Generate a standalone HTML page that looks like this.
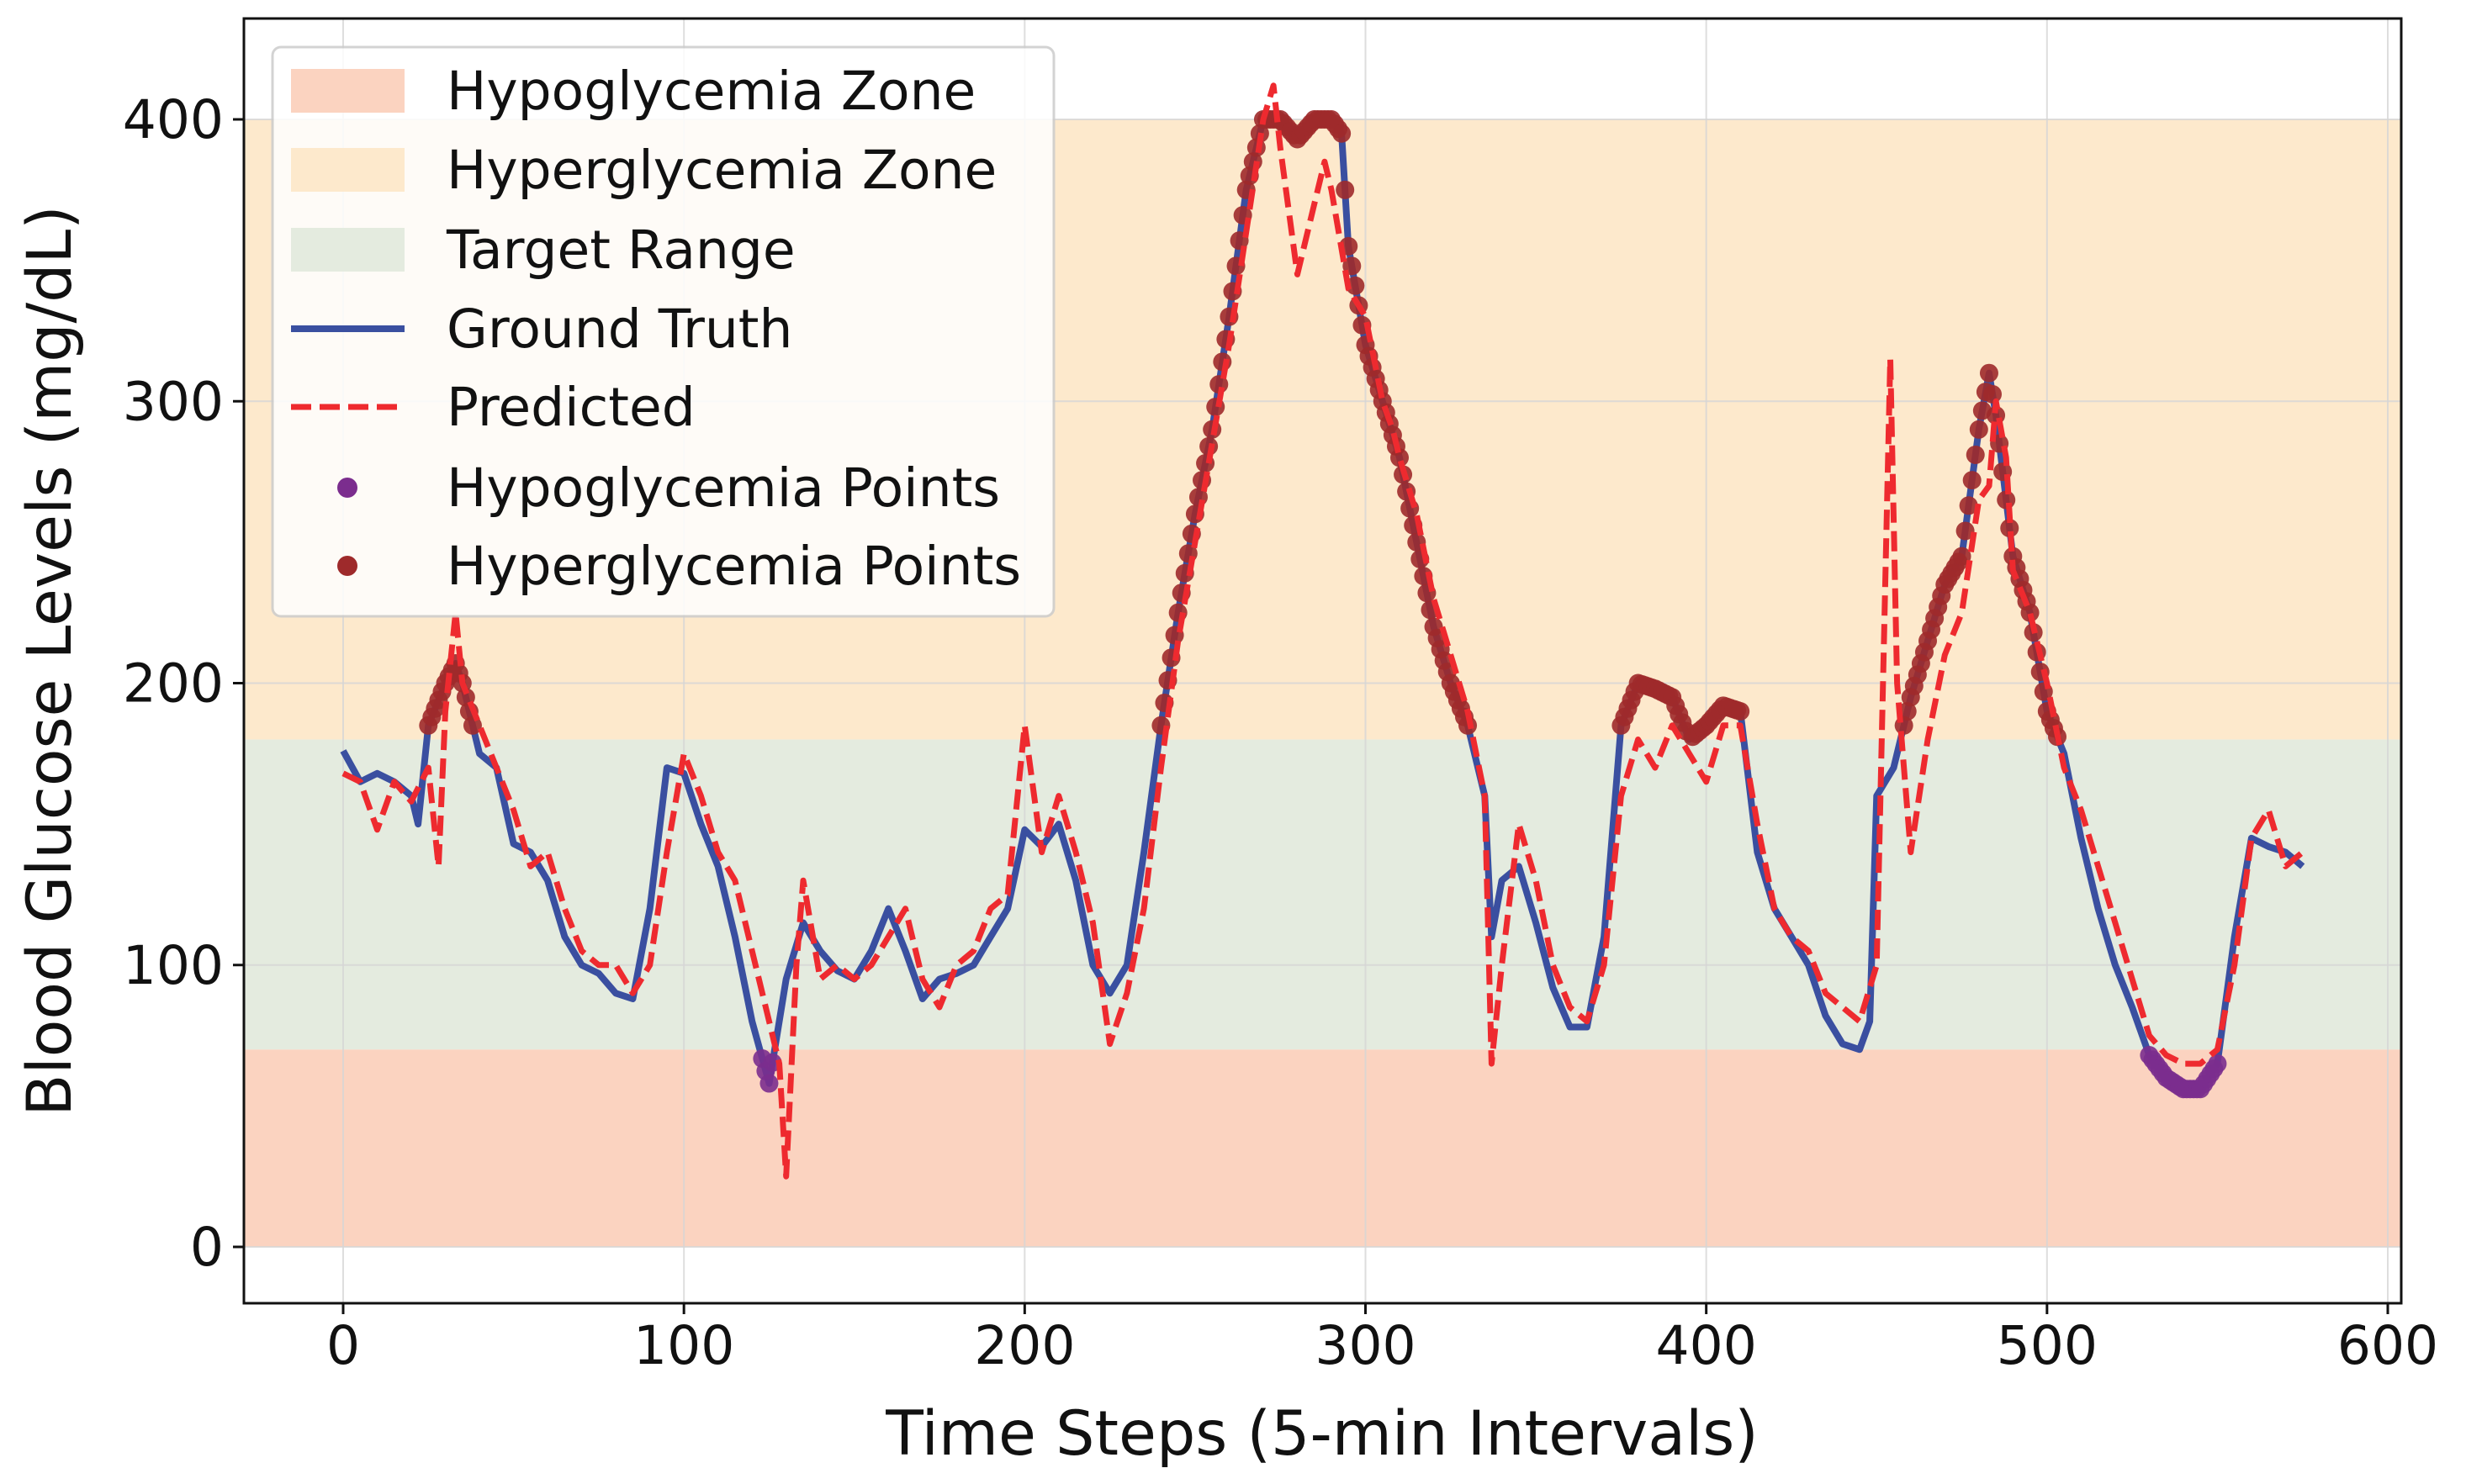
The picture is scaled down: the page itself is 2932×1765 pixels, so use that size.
<!DOCTYPE html>
<html><head><meta charset="utf-8"><style>
body{margin:0;background:#fff}
svg text{font-family:"DejaVu Sans","Liberation Sans",sans-serif;fill:#111}
</style></head><body>
<svg id="chart" width="2932" height="1760" viewBox="0 0 2932 1760" xmlns="http://www.w3.org/2000/svg">
<g id="zones"></g><g id="grid"></g><g id="series"></g><g id="axes"></g><g id="legend"></g>
</svg>
<script>
const gtT=[0,5,10,15,20,22,25,30,33,35,40,45,50,55,60,65,70,75,80,85,90,95,100,105,110,115,120,125,130,135,140,145,150,155,160,165,170,175,180,185,190,195,200,205,210,215,220,225,230,235,240,245,250,255,260,265,270,275,280,285,290,293,295,300,305,310,315,320,325,330,335,337,340,345,350,355,360,365,370,375,380,385,390,395,400,405,410,415,420,425,430,435,440,445,448,450,455,460,465,470,475,480,483,485,490,495,500,505,510,515,520,525,530,535,540,545,550,555,560,565,570,575];
const gtV=[176,165,168,165,160,150,185,200,207,200,175,170,143,140,130,110,100,97,90,88,120,170,168,150,135,110,80,58,95,115,105,98,95,105,120,105,88,95,97,100,110,120,148,142,150,130,100,90,100,140,185,225,260,290,330,375,400,400,393,400,400,395,355,320,300,280,250,220,200,185,160,110,130,135,115,92,78,78,110,185,200,198,195,180,185,192,190,140,120,110,100,82,72,70,80,160,170,195,215,235,245,290,310,295,245,225,190,175,145,120,100,85,68,60,56,56,65,110,145,142,140,135];
const prT=[0,5,10,15,20,25,28,30,33,35,40,45,50,55,60,65,70,75,80,85,90,95,100,105,110,115,120,125,128,130,133,135,140,145,150,155,160,165,170,175,180,185,190,195,200,205,210,215,220,225,230,235,240,245,250,255,260,265,270,273,275,280,285,288,290,295,300,305,308,310,315,320,325,330,335,337,340,345,350,355,360,365,370,375,380,385,390,395,400,405,410,415,420,425,430,435,440,445,450,454,456,460,465,470,475,480,483,485,488,490,495,500,505,510,515,520,525,530,535,540,545,550,555,560,565,570,575];
const prV=[168,165,148,165,158,170,135,190,225,200,185,170,155,135,140,120,105,100,100,90,100,140,175,160,140,130,105,80,65,25,100,130,95,100,95,100,110,120,95,85,100,105,120,125,185,140,160,140,115,72,90,120,170,215,250,285,320,360,400,412,390,345,370,385,375,340,330,300,290,280,260,230,210,190,160,65,100,150,130,100,85,80,100,160,180,170,185,175,165,185,185,150,120,110,105,90,85,80,100,315,200,140,180,210,225,265,270,300,280,240,225,200,170,155,135,115,95,75,68,65,65,70,100,145,155,135,140];
const xTicks=[0,100,200,300,400,500,600];
const yTicks=[0,100,200,300,400];
const legendLabels=["Hypoglycemia Zone","Hyperglycemia Zone","Target Range","Ground Truth","Predicted","Hypoglycemia Points","Hyperglycemia Points"];
const NS="http://www.w3.org/2000/svg";
const X=t=>408+t*(2431/600), Y=v=>1483-v*(1341/400);
const L=290,R=2855,T=22,B=1550;
function mk(tag,attrs,parent,txt){const e=document.createElementNS(NS,tag);for(const k in attrs)e.setAttribute(k,attrs[k]);if(txt!==undefined)e.textContent=txt;document.getElementById(parent).appendChild(e);return e;}
let z=mk('rect',{x:L,y:Y(400),width:R-L,height:Y(180)-Y(400),fill:'#fde9cc'},'zones');

z=mk('rect',{x:L,y:Y(180),width:R-L,height:Y(70)-Y(180),fill:'#e4ebdf'},'zones');

z=mk('rect',{x:L,y:Y(70),width:R-L,height:Y(0)-Y(70),fill:'#fbd3c0'},'zones');

xTicks.forEach(t=>{const g=mk('line',{x1:X(t),x2:X(t),y1:T,y2:B,stroke:'#d6d6d6','stroke-width':2,opacity:0.8},'grid');});
yTicks.forEach(v=>{const g=mk('line',{x1:L,x2:R,y1:Y(v),y2:Y(v),stroke:'#d6d6d6','stroke-width':2,opacity:0.8},'grid');});
const pts=(ts,vs)=>ts.map((t,i)=>X(t).toFixed(1)+','+Y(vs[i]).toFixed(1)).join(' ');
let gl=mk('polyline',{points:pts(gtT,gtV),fill:'none',stroke:'#3a4fa0','stroke-width':8,'stroke-linejoin':'round'},'series');

// markers: at each data point and along segments (rendering every time step) where the ground truth is out of range
for(let i=0;i<gtT.length;i++){
  const n=(i<gtT.length-1)?gtT[i+1]-gtT[i]:1;
  for(let k=0;k<n;k++){
    const f=k/n, t=gtT[i]+k;
    const v=(i<gtT.length-1)?gtV[i]+(gtV[i+1]-gtV[i])*f:gtV[i];
    if(v>180||v<70){
      const c=mk('circle',{cx:X(t),cy:Y(v),r:11,fill:v>180?'#9e2a2b':'#7b2d8e',opacity:0.9},'series');
      
      
    }
  }
}
let pl=mk('polyline',{points:pts(prT,prV),fill:'none',stroke:'#ee2a2f','stroke-width':7,'stroke-dasharray':'24,10','stroke-linejoin':'round'},'series');

let f=mk('rect',{x:L,y:T,width:R-L,height:B-T,fill:'none',stroke:'#111','stroke-width':3},'axes');

xTicks.forEach(t=>{mk('line',{x1:X(t),x2:X(t),y1:B,y2:B+13,stroke:'#111','stroke-width':3},'axes');const e=mk('text',{x:X(t),y:B+72,'font-size':63,'text-anchor':'middle'},'axes',t);});
yTicks.forEach(v=>{mk('line',{x1:L-13,x2:L,y1:Y(v),y2:Y(v),stroke:'#111','stroke-width':3},'axes');const e=mk('text',{x:L-24,y:Y(v)+22,'font-size':63,'text-anchor':'end'},'axes',v);});
let xl=mk('text',{x:1572,y:1730,'font-size':73,'text-anchor':'middle'},'axes','Time Steps (5-min Intervals)');

let yl=mk('text',{x:0,y:0,'font-size':73,'text-anchor':'middle',transform:'translate(84,786) rotate(-90)'},'axes','Blood Glucose Levels (mg/dL)');

let lb=mk('rect',{x:324,y:56,width:929,height:677,rx:10,fill:'#fff',opacity:0.85,stroke:'#ccc','stroke-width':3},'legend');

const rows=[108,202,297,391,484,580,673];
const colors=['#fbd3c0','#fde9cc','#e4ebdf'];
legendLabels.forEach((lab,i)=>{const y=rows[i];
 if(i<3){mk('rect',{x:346,y:y-26,width:135,height:52,fill:colors[i]},'legend');}
 else if(i===3){mk('line',{x1:346,x2:481,y1:y,y2:y,stroke:'#3a4fa0','stroke-width':8},'legend');}
 else if(i===4){mk('line',{x1:346,x2:481,y1:y,y2:y,stroke:'#ee2a2f','stroke-width':7,'stroke-dasharray':'24,10'},'legend');}
 else{mk('circle',{cx:413,cy:y,r:12,fill:i===5?'#7b2d8e':'#9e2a2b'},'legend');}
 const t=mk('text',{x:531,y:y+22,'font-size':63},'legend',lab);
 
});
</script>
</body></html>
